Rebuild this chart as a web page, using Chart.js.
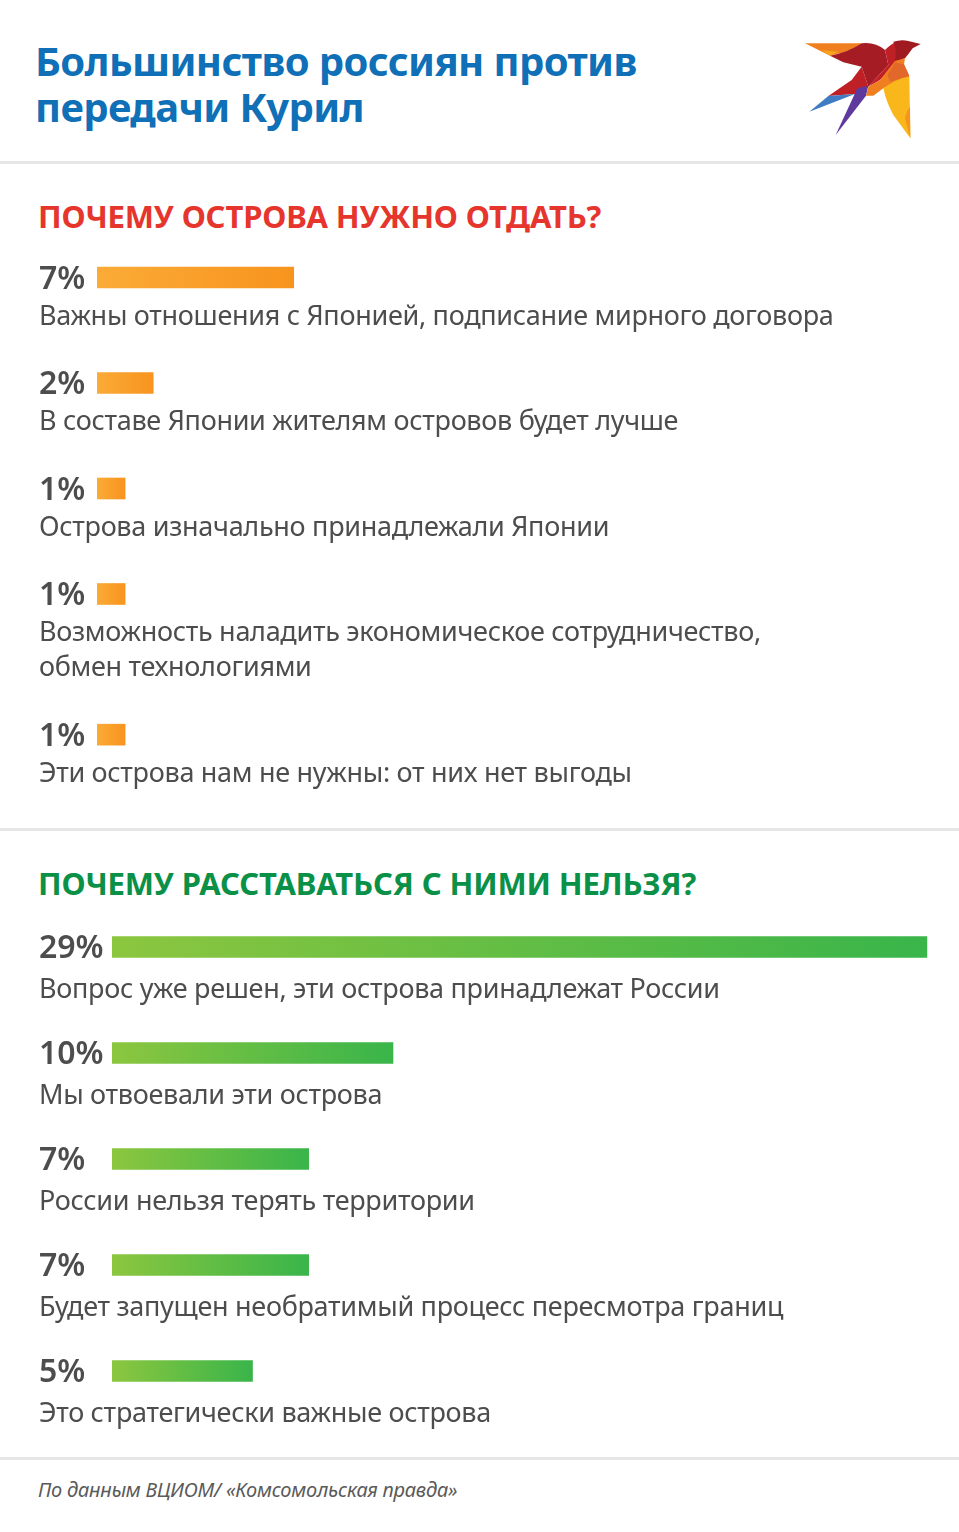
<!DOCTYPE html>
<html lang="ru">
<head>
<meta charset="utf-8">
<title>Большинство россиян против передачи Курил</title>
<script src="https://cdn.jsdelivr.net/npm/chart.js@4"></script>
<style>
    html, body { margin: 0; padding: 0; background: #fff; }
    body { position: relative; width: 959px; height: 1532px; overflow: hidden; font-family: "Noto Sans", sans-serif; }
    h1, h2, p { margin: 0; position: absolute; white-space: nowrap; }
    h1 { left: 35px; top: 38px; font-size: 40px; line-height: 46px; font-weight: 700; letter-spacing: -0.6px; color: #0f6fb7; }
    h2 { left: 38px; font-size: 31px; line-height: 40px; font-weight: 700; letter-spacing: -0.15px; }
    #whyGiveTitle { top: 196px; color: #e5352d; }
    #whyKeepTitle { top: 863px; color: #0b9048; }
    #source { left: 38px; top: 1476px; font-size: 20px; line-height: 28px; font-style: italic; letter-spacing: -0.23px; color: #5a5a5a; }
    .rule { position: absolute; left: 0; width: 959px; height: 3px; background: #e6e6e6; }
    canvas { position: absolute; left: 0; }
    #logo { position: absolute; left: 780px; top: 25px; }
</style>
</head>
<body>
<h1>Большинство россиян против<br>передачи Курил</h1>
<svg id="logo" width="160" height="125" viewBox="0 0 480 375">
    <path fill="#f0801f" d="M75,55 L245,55 Q225,72 190,82 L150,92 Z"/>
    <polygon fill="#f9a61a" points="125,76 175,80 150,92"/>
    <polygon fill="#bf2026" points="245,125 265,185 225,207 145,213 215,165"/>
    <path fill="#a51c24" d="M150,92 Q205,82 245,55 Q285,50 315,75 L325,120 L265,185 L245,125 L190,112 Z"/>
    <polygon fill="#3f7cc4" points="145,213 225,207 88,260"/>
    <polygon fill="#5f3a9e" points="232,190 265,182 258,212 167,330"/>
    <path fill="#bf2026" d="M315,75 Q330,58 350,50 L375,95 L345,120 L300,165 L265,185 L325,120 Z"/>
    <path fill="#a01a22" d="M340,50 Q365,42 385,48 L422,57 L398,70 Q385,88 375,100 L345,108 Q352,75 340,50 Z"/>
    <path fill="#f0801f" d="M345,108 L375,100 L372,118 L388,155 L310,190 L280,212 L258,212 L265,185 L300,165 Z"/>
    <polygon fill="#e2672a" points="345,112 372,118 388,152 330,170 322,150"/>
    <path fill="#f9b71c" d="M310,190 Q350,160 388,155 L391,340 L340,270 Q318,230 310,190 Z"/>
    <path fill="#f7941e" d="M375,280 Q380,255 390,245 L391,340 Z"/>
</svg>
<div class="rule" style="top: 161px"></div>
<h2 id="whyGiveTitle">ПОЧЕМУ ОСТРОВА НУЖНО ОТДАТЬ?</h2>
<canvas id="whyGiveChart" width="959" height="570" style="top: 240px"></canvas>
<div class="rule" style="top: 828px"></div>
<h2 id="whyKeepTitle">ПОЧЕМУ РАССТАВАТЬСЯ С НИМИ НЕЛЬЗЯ?</h2>
<canvas id="whyKeepChart" width="959" height="530" style="top: 910px"></canvas>
<div class="rule" style="top: 1457px"></div>
<p id="source">По данным ВЦИОМ/ «Комсомольская правда»</p>

<script>
// Chart data
const whyGiveCategories = [
    ['Важны отношения с Японией, подписание мирного договора'],
    ['В составе Японии жителям островов будет лучше'],
    ['Острова изначально принадлежали Японии'],
    ['Возможность наладить экономическое сотрудничество,', 'обмен технологиями'],
    ['Эти острова нам не нужны: от них нет выгоды']
];
const whyGiveValues = [7, 2, 1, 1, 1];

const whyKeepCategories = [
    ['Вопрос уже решен, эти острова принадлежат России'],
    ['Мы отвоевали эти острова'],
    ['России нельзя терять территории'],
    ['Будет запущен необратимый процесс пересмотра границ'],
    ['Это стратегически важные острова']
];
const whyKeepValues = [29, 10, 7, 7, 5];

const VALUE_FONT = '600 32px "Noto Sans", sans-serif';
const LABEL_FONT = '27px "Noto Sans", sans-serif';
const LABEL_SPACING = '-0.3px';
const TEXT_COLOR = '#4d4d4d';
const LINE_HEIGHT = 35;

// Each extra text line pushes the next row down by a third of a row
function rowSlots(categories) {
    let slot = 0;
    return categories.map(lines => {
        const current = slot;
        slot += 1 + (lines.length - 1) / 3;
        return current;
    });
}

// Draws the percent and the caption around every bar
const rowTextPlugin = {
    id: 'rowText',
    afterDatasetsDraw(chart, args, opts) {
        const ctx = chart.ctx;
        const yScale = chart.scales.y;
        ctx.save();
        ctx.textBaseline = 'middle';
        ctx.fillStyle = TEXT_COLOR;
        opts.categories.forEach((lines, i) => {
            const y = yScale.getPixelForValue(opts.slots[i]);
            ctx.font = VALUE_FONT;
            ctx.letterSpacing = '0px';
            ctx.fillText(opts.values[i] + '%', 39, y + 2);
            ctx.font = LABEL_FONT;
            ctx.letterSpacing = LABEL_SPACING;
            lines.forEach((line, n) => {
                ctx.fillText(line, 39, y + opts.captionGap + n * LINE_HEIGHT);
            });
        });
        ctx.restore();
    }
};

function drawSection(canvasId, categories, values, cfg) {
    const canvas = document.getElementById(canvasId);
    const slots = rowSlots(categories);
    const yMin = -cfg.firstRow / cfg.rowPitch;

    return new Chart(canvas, {
        type: 'bar',
        data: {
            datasets: [{
                data: values.map((v, i) => ({ x: v, y: slots[i] })),
                barThickness: 21,
                borderWidth: 0,
                backgroundColor(context) {
                    const chart = context.chart;
                    // Scales have no pixels until the first layout is done
                    if (!chart.chartArea || !context.raw) return cfg.colors[1];
                    const xScale = chart.scales.x;
                    const g = chart.ctx.createLinearGradient(
                        xScale.getPixelForValue(0), 0, xScale.getPixelForValue(context.raw.x), 0);
                    g.addColorStop(0, cfg.colors[0]);
                    g.addColorStop(1, cfg.colors[1]);
                    return g;
                }
            }]
        },
        options: {
            indexAxis: 'y',
            responsive: false,
            animation: false,
            layout: { padding: { left: cfg.barStart, right: canvas.width - cfg.barStart - 843, top: 0, bottom: 0 } },
            scales: {
                x: { type: 'linear', min: 0, max: 30, display: false },
                // offset is on by default for a bar chart's index axis and would squeeze the rows
                y: { type: 'linear', offset: false, reverse: true, min: yMin, max: yMin + canvas.height / cfg.rowPitch, display: false }
            },
            plugins: {
                legend: { display: false },
                tooltip: { enabled: false },
                rowText: { categories, values, slots, captionGap: cfg.captionGap }
            }
        },
        plugins: [rowTextPlugin]
    });
}

drawSection('whyGiveChart', whyGiveCategories, whyGiveValues, {
    barStart: 97, firstRow: 37.5, rowPitch: 105.5, captionGap: 39.5,
    colors: ['#fbab37', '#f7941e']
});
drawSection('whyKeepChart', whyKeepCategories, whyKeepValues, {
    barStart: 112, firstRow: 37, rowPitch: 106, captionGap: 43,
    colors: ['#8cc63f', '#39b54a']
});
</script>
</body>
</html>
